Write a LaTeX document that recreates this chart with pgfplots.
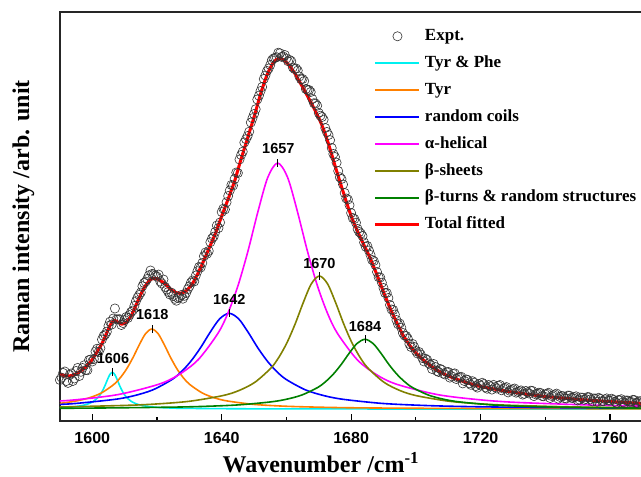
\documentclass[border=0pt]{standalone}
\usepackage{fontspec}
\setmainfont{Liberation Serif}
\setsansfont{Liberation Sans}
\usepackage{pgfplots}
\pgfplotsset{compat=1.18}
\definecolor{cTP}{RGB}{0,240,240}
\definecolor{cTyr}{RGB}{255,128,0}
\definecolor{cRC}{RGB}{0,0,255}
\definecolor{cAH}{RGB}{255,0,255}
\definecolor{cBS}{RGB}{128,128,0}
\definecolor{cBT}{RGB}{0,128,0}
\definecolor{cTot}{RGB}{255,0,0}
\begin{document}
\begin{tikzpicture}
\begin{axis}[
  scale only axis, width=582.5pt, height=409pt,
  xmin=1590, xmax=1770, ymin=0, ymax=409,
  xtick={1600,1640,1680,1720,1760},
  minor x tick num=1,
  ytick=\empty,
  xtick pos=left, tick align=inside,
  major tick length=7pt, minor tick length=3.5pt,
  every tick/.style={black, line width=1.2pt},
  axis line style={black!85, line width=1.3pt},
  /pgf/number format/1000 sep={},
  /pgf/number format/assume math mode=true,
  xticklabel style={font=\sffamily\bfseries\fontsize{16}{16}\selectfont, yshift=-8pt},
  xlabel={Wavenumber /cm\textsuperscript{-1}},
  xlabel style={at={(axis description cs:0.448,-0.127)}, anchor=base, font=\bfseries\fontsize{24}{24}\selectfont},
  ylabel={Raman intensity /arb. unit},
  ylabel style={at={(axis description cs:-0.0625,0.5)}, anchor=center, font=\bfseries\fontsize{24}{24}\selectfont},
  legend cell align=left,
  legend style={at={(0.5392,0.962)}, anchor=north west, draw=none, fill=none, inner sep=0pt, outer sep=0pt,
    font=\bfseries\fontsize{17}{17}\selectfont, row sep=9.4pt, column sep=3pt,
    nodes={inner sep=1pt, text height=12pt, text depth=3.5pt}},
]
\addplot[forget plot, only marks, mark=o, mark size=4.6pt, mark options={black!80, line width=0.6pt}] coordinates {
(1590,41) (1590.5,43.4) (1591,48) (1591.5,49.5) (1592,40) (1592.5,38.1) (1593,46) (1593.5,47.5) (1594,40) (1594.5,42.5)
(1595,50) (1595.5,53.1) (1596,45) (1596.5,49.2) (1597,53) (1597.5,55.7) (1598,51) (1598.5,50.8) (1599,61) (1599.5,61.5)
(1600,59.5) (1600.5,62) (1601,69.5) (1601.5,72.3) (1602,69) (1602.5,72.8) (1603,81.5) (1603.5,85) (1604,86.5) (1604.5,89.3)
(1605,95) (1605.5,99.3) (1606,96.5) (1606.5,102.5) (1607,112.5) (1607.5,101.6) (1608,101.7) (1608.5,101.8) (1609,96) (1609.5,98)
(1610,101) (1610.5,104) (1611,103) (1611.5,105.9) (1612,109) (1612.5,110.5) (1613,115) (1613.5,119.8) (1614,123.5) (1614.5,126)
(1615,128.5) (1615.5,134.8) (1616,138) (1616.5,139.4) (1617,142) (1617.5,145.7) (1618,150.5) (1618.5,147.1) (1619,146.7) (1619.5,145.5)
(1620,144.3) (1620.5,146.4) (1621,139.5) (1621.5,137.5) (1622,141.5) (1622.5,134) (1623,131.5) (1623.5,129) (1624,126.5) (1624.5,128.3)
(1625,125) (1625.5,122.2) (1626,120.3) (1626.5,123) (1627,123.7) (1627.5,126) (1628,122.3) (1628.5,125.2) (1629,128) (1629.5,131.8)
(1630,134.5) (1630.5,138.5) (1631,140.5) (1631.5,139.5) (1632,145.5) (1632.5,149.8) (1633,154) (1633.5,153.5) (1634,158) (1634.5,164.8)
(1635,168.5) (1635.5,167.3) (1636,170) (1636.5,178.8) (1637,182.5) (1637.5,184.3) (1638,189) (1638.5,195.5) (1639,193) (1639.5,198.5)
(1640,209) (1640.5,212.3) (1641,211.5) (1641.5,218.8) (1642,225) (1642.5,230.5) (1643,236) (1643.5,235.5) (1644,242) (1644.5,248.5)
(1645,248) (1645.5,261.5) (1646,266) (1646.5,269.3) (1647,278.5) (1647.5,281.8) (1648,285) (1648.5,289.3) (1649,298.5) (1649.5,302.8)
(1650,307) (1650.5,311.8) (1651,321.5) (1651.5,325.3) (1652,330) (1652.5,334) (1653,342) (1653.5,345.5) (1654,350) (1654.5,352.5)
(1655,356) (1655.5,360.8) (1656,362.5) (1656.5,363.2) (1657,363.8) (1657.5,368.3) (1658,367.7) (1658.5,364.1) (1659,364.5) (1659.5,366)
(1660,362.5) (1660.5,359.8) (1661,361) (1661.5,359.8) (1662,353.5) (1662.5,352) (1663,352.5) (1663.5,350.5) (1664,344.5) (1664.5,341.8)
(1665,342) (1665.5,340) (1666,332) (1666.5,331) (1667,331) (1667.5,329) (1668,322) (1668.5,317.8) (1669,317.5) (1669.5,315.3)
(1670,308) (1670.5,305.3) (1671,304) (1671.5,301.3) (1672,293) (1672.5,289) (1673,286) (1673.5,280.8) (1674,273) (1674.5,267)
(1675,264) (1675.5,258.3) (1676,250) (1676.5,243.8) (1677,242) (1677.5,236.5) (1678,228) (1678.5,222.5) (1679,221.5) (1679.5,215.8)
(1680,208) (1680.5,203) (1681,202) (1681.5,198.3) (1682,192) (1682.5,189) (1683,187.5) (1683.5,185) (1684,178.5) (1684.5,174.3)
(1685,175) (1685.5,170.5) (1686,166) (1686.5,161) (1687,160) (1687.5,156) (1688,149) (1688.5,143.8) (1689,143.5) (1689.5,138.3)
(1690,133) (1690.5,128) (1691,128) (1691.5,123) (1692,116) (1692.5,111.5) (1693,111) (1693.5,106.5) (1694,101) (1694.5,96.8)
(1695,97.5) (1695.5,93.3) (1696,88) (1696.5,85.5) (1697,85) (1697.5,82.5) (1698,77) (1698.5,74) (1699,77) (1699.5,74)
(1700,70) (1700.5,67.5) (1701,69) (1701.5,66.5) (1702,63) (1702.5,59.6) (1703,62.3) (1703.5,61) (1704,57.6) (1704.5,56.3)
(1705,52) (1705.5,57) (1706,54) (1706.5,50) (1707,49) (1707.5,52.1) (1708,51.2) (1708.5,47.4) (1709,46.5) (1709.5,48.8)
(1710,49) (1710.5,43.4) (1711,44.8) (1711.5,47.2) (1712,47.6) (1712.5,42) (1713,43.4) (1713.5,43.8) (1714,44.2) (1714.5,37.6)
(1715,40) (1715.5,41.6) (1716,41.1) (1716.5,37.7) (1717,36.2) (1717.5,39.8) (1718,38.3) (1718.5,34.9) (1719,33.4) (1719.5,37)
(1720,35.5) (1720.5,38.2) (1721,36.9) (1721.5,33.6) (1722,32.3) (1722.5,36) (1723,34.7) (1723.5,31.4) (1724,36.1) (1724.5,33.8)
(1725,32.5) (1725.5,35.2) (1726,36) (1726.5,30.7) (1727,32.4) (1727.5,33.1) (1728,33.9) (1728.5,28.6) (1729,30.3) (1729.5,31)
(1730,31.8) (1730.5,32.5) (1731,28.3) (1731.5,29.1) (1732,29.9) (1732.5,30.6) (1733,26.4) (1733.5,27.2) (1734,30) (1734.5,28.7)
(1735,27.5) (1735.5,30.3) (1736,30.1) (1736.5,24.9) (1737,26.7) (1737.5,27.5) (1738,28.3) (1738.5,28.1) (1739,24.9) (1739.5,24.7)
(1740,26.5) (1740.5,27.3) (1741,28.2) (1741.5,23) (1742,24.9) (1742.5,25.7) (1743,26.6) (1743.5,27.4) (1744,22.3) (1744.5,24.1)
(1745,25) (1745.5,24.8) (1746,22.7) (1746.5,22.5) (1747,25.4) (1747.5,25.3) (1748,23.2) (1748.5,23) (1749,23.9) (1749.5,24.7)
(1750,20.6) (1750.5,21.5) (1751,23.4) (1751.5,23.3) (1752,21.2) (1752.5,22) (1753,23.9) (1753.5,23.8) (1754,21.7) (1754.5,19.6)
(1755,22.5) (1755.5,22.4) (1756,19.3) (1756.5,23.2) (1757,22.1) (1757.5,19.9) (1758,19.8) (1758.5,21.7) (1759,22.6) (1759.5,20.5)
(1760,20.4) (1760.5,22.3) (1761,21.2) (1761.5,19.1) (1762,18) (1762.5,20.9) (1763,20.9) (1763.5,21.8) (1764,18.7) (1764.5,17.6)
(1765,20.5) (1765.5,20.4) (1766,19.3) (1766.5,19.2) (1767,21.1) (1767.5,21) (1768,18) (1768.5,17.9) (1769,19.8) (1769.5,19.7) (1770,18.6)
};
\addplot[forget plot, cTP, line width=1.6pt, smooth] coordinates {
(1590,13.2) (1594.2,14.2) (1597.2,15.7) (1598.7,17.1) (1600.2,19.3) (1601.7,23.3) (1602.45,26.3) (1603.2,30.4) (1603.95,35.5) (1604.7,41.4) (1605.45,46.5) (1606.2,48.7) (1606.95,46.5) (1607.7,41.4) (1608.45,35.5) (1609.2,30.4) (1609.95,26.3) (1610.7,23.3) (1612.2,19.3) (1613.7,17.1) (1615.2,15.7) (1618.2,14.2) (1621.2,13.4) (1624.2,13.0) (1630.2,12.6) (1660,12.1) (1770,12.0)
};
\addplot[forget plot, cTyr, line width=1.6pt, smooth] coordinates {
(1590,17.6) (1595.0,20) (1598.9,23) (1602.8,28) (1606.7,36.6) (1608.65,43.2) (1610.6,52) (1612.55,63.2) (1614.5,76) (1616.45,87.3) (1618.4,92) (1620.35,87.3) (1622.3,76) (1624.25,63.2) (1626.2,52) (1628.15,43.2) (1630.1,36.6) (1634,28) (1637.9,23) (1641.8,20) (1649.6,16.7) (1657.4,15.1) (1665.2,14.2) (1680.8,13.2) (1710,12.6) (1770,12.2)
};
\addplot[forget plot, cRC, line width=1.6pt, smooth] coordinates {
(1590,16.6) (1595.1,17.6) (1606.9,21.6) (1612.8,25.2) (1618.7,31.1) (1624.6,41.4) (1627.55,49.3) (1630.5,59.9) (1633.45,73.2) (1636.4,88.6) (1639.35,102.1) (1642.3,107.7) (1645.25,102.1) (1648.2,88.6) (1651.15,73.2) (1654.1,59.9) (1657.05,49.3) (1660,41.4) (1665.9,31.1) (1671.8,25.2) (1677.7,21.6) (1689.5,17.6) (1701.3,15.7) (1713.1,14.6) (1736.7,13.5) (1770,12.8)
};
\addplot[forget plot, cAH, line width=1.6pt, smooth] coordinates {
(1590,20.0) (1595.8,21.5) (1608.1,26.5) (1620.4,36.6) (1626.55,45.9) (1632.7,61.2) (1638.85,87.7) (1641.925,107.9) (1645,135) (1648.075,169.4) (1651.15,208.8) (1654.225,243.5) (1657.3,258) (1660.375,243.5) (1663.45,208.8) (1666.525,169.4) (1669.6,135) (1672.675,107.9) (1675.75,87.7) (1681.9,61.2) (1688.05,45.9) (1694.2,36.6) (1706.5,26.5) (1718.8,21.5) (1731.1,18.6) (1755.7,15.8) (1770,14.9)
};
\addplot[forget plot, cBS, line width=1.6pt, smooth] coordinates {
(1590,14.0) (1610.2,15.6) (1620.2,17.1) (1630.2,19.8) (1640.2,25.3) (1645.2,30.3) (1650.2,38.6) (1655.2,52.9) (1657.7,63.9) (1660.2,78.5) (1662.7,97.1) (1665.2,118.4) (1667.7,137.2) (1670.2,145) (1672.7,137.2) (1675.2,118.4) (1677.7,97.1) (1680.2,78.5) (1682.7,63.9) (1685.2,52.9) (1690.2,38.6) (1695.2,30.3) (1700.2,25.3) (1710.2,19.8) (1720.2,17.1) (1730.2,15.6) (1750.2,14.0) (1770,13.3)
};
\addplot[forget plot, cBT, line width=1.6pt, smooth] coordinates {
(1590,12.7) (1605.9,13.1) (1625.5,13.9) (1635.3,14.7) (1645.1,16.1) (1654.9,19.0) (1659.8,21.6) (1664.7,25.9) (1669.6,33.4) (1672.05,39.2) (1674.5,46.9) (1676.95,56.6) (1679.4,67.8) (1681.85,77.6) (1684.3,81.7) (1686.75,77.6) (1689.2,67.8) (1691.65,56.6) (1694.1,46.9) (1696.55,39.2) (1699,33.4) (1703.9,25.9) (1708.8,21.6) (1713.7,19.0) (1723.5,16.1) (1733.3,14.7) (1743.1,13.9) (1762.7,13.1) (1770,12.9)
};
\addplot[forget plot, black, line width=0.5pt] coordinates {(1606.2,45) (1606.2,53)};
\addplot[forget plot, black, line width=0.5pt] coordinates {(1618.4,88) (1618.4,96)};
\addplot[forget plot, black, line width=0.5pt] coordinates {(1642.3,104) (1642.3,112)};
\addplot[forget plot, black, line width=0.5pt] coordinates {(1657.3,254) (1657.3,262)};
\addplot[forget plot, black, line width=0.5pt] coordinates {(1670.2,141) (1670.2,149)};
\addplot[forget plot, black, line width=0.5pt] coordinates {(1684.3,78) (1684.3,86)};
\addplot[forget plot, cTot, line width=3pt, smooth] coordinates {
(1590,47) (1591,45.8) (1592,45.1) (1593,45.1) (1594,45.8) (1595,47.2) (1596,49) (1597,51.4) (1598,54) (1599,57.5)
(1600,61.5) (1601,66.5) (1602,72) (1603,77.5) (1604,84.5) (1605,92) (1606,98.5) (1607,100.5) (1608,98.7) (1609,96.9)
(1610,97.2) (1611,100.8) (1612,105) (1613,112) (1614,119.5) (1615,126.5) (1616,133) (1617,137.8) (1618,141.5) (1619,142.7)
(1620,142.3) (1621,140.5) (1622,138.5) (1623,135.5) (1624,132.5) (1625,130) (1626,128.3) (1627,127.7) (1628,128.3) (1629,130)
(1630,133.5) (1631,137.5) (1632,143.5) (1633,150) (1634,157) (1635,164.5) (1636,172) (1637,179.5) (1638,187) (1639,196)
(1640,205) (1641,213.5) (1642,222) (1643,231) (1644,240) (1645,251) (1646,262) (1647,272.5) (1648,283) (1649,293.5)
(1650,304) (1651,315.5) (1652,327) (1653,337) (1654,346) (1655,353) (1656,358.5) (1657,361.8) (1658,362.7) (1659,361.5)
(1660,358.5) (1661,355) (1662,350.5) (1663,345.5) (1664,339.5) (1665,334) (1666,328) (1667,322) (1668,316) (1669,309.5)
(1670,303) (1671,295.5) (1672,287) (1673,277) (1674,266.5) (1675,255.5) (1676,245) (1677,234.5) (1678,224.5) (1679,214.5)
(1680,205) (1681,197) (1682,189.5) (1683,182.5) (1684,175.5) (1685,169) (1686,162) (1687,154) (1688,146) (1689,137.5)
(1690,129) (1691,121) (1692,113) (1693,106) (1694,99) (1695,92.5) (1696,86) (1697,81) (1698,76) (1699,72)
(1700,68) (1702,62) (1704,56.6) (1706,52) (1708,48.2) (1710,45) (1713,41.4) (1716,38.1) (1720,34.5) (1725,31.5)
(1730,28.8) (1735,26.5) (1740,24.5) (1745,23) (1750,21.6) (1755,20.5) (1760,19.4) (1765,18.5) (1770,17.6)
};
\addlegendimage{legend image code/.code={\draw[black!80, line width=0.6pt] (22pt,0pt) circle[radius=4.6pt];}}
\addlegendentry{Expt.}
\addlegendimage{legend image code/.code={\draw[cTP, line width=1.6pt] (0pt,0pt) -- (44pt,0pt);}}
\addlegendentry{Tyr \& Phe}
\addlegendimage{legend image code/.code={\draw[cTyr, line width=1.6pt] (0pt,0pt) -- (44pt,0pt);}}
\addlegendentry{Tyr}
\addlegendimage{legend image code/.code={\draw[cRC, line width=1.6pt] (0pt,0pt) -- (44pt,0pt);}}
\addlegendentry{random coils}
\addlegendimage{legend image code/.code={\draw[cAH, line width=1.6pt] (0pt,0pt) -- (44pt,0pt);}}
\addlegendentry{α-helical}
\addlegendimage{legend image code/.code={\draw[cBS, line width=1.6pt] (0pt,0pt) -- (44pt,0pt);}}
\addlegendentry{β-sheets}
\addlegendimage{legend image code/.code={\draw[cBT, line width=1.8pt] (0pt,0pt) -- (44pt,0pt);}}
\addlegendentry{β-turns {\&} random structures}
\addlegendimage{legend image code/.code={\draw[cTot, line width=3pt] (0pt,0pt) -- (44pt,0pt);}}
\addlegendentry{Total fitted}
\node[font=\sffamily\bfseries\fontsize{14.5}{14.5}\selectfont] at (axis cs:1606.4,62) {1606};
\node[font=\sffamily\bfseries\fontsize{14.5}{14.5}\selectfont] at (axis cs:1618.55,106) {1618};
\node[font=\sffamily\bfseries\fontsize{14.5}{14.5}\selectfont] at (axis cs:1642.35,121) {1642};
\node[font=\sffamily\bfseries\fontsize{14.5}{14.5}\selectfont] at (axis cs:1657.5,272.7) {1657};
\node[font=\sffamily\bfseries\fontsize{14.5}{14.5}\selectfont] at (axis cs:1670.2,157.7) {1670};
\node[font=\sffamily\bfseries\fontsize{14.5}{14.5}\selectfont] at (axis cs:1684.3,94.3) {1684};
\end{axis}
\pgfresetboundingbox
\path (-59.9pt,-56pt) rectangle (581.1pt,421pt);
\end{tikzpicture}
\end{document}
